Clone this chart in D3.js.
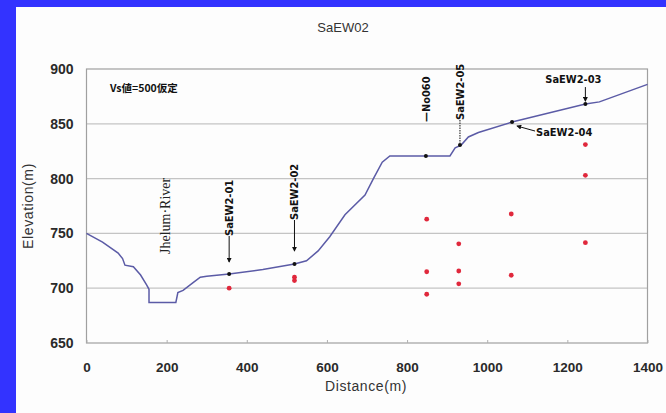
<!DOCTYPE html>
<html><head><meta charset="utf-8">
<script src="https://cdn.jsdelivr.net/npm/d3@7"></script>
<style>
html,body{margin:0;padding:0;background:#3333ff;}
svg{display:block;}
</style></head>
<body>
<svg id="c" width="666" height="413"></svg>
<script>
const chartTitle = "SaEW02";
const xTicks = [0, 200, 400, 600, 800, 1000, 1200, 1400];
const yTicks = [650, 700, 750, 800, 850, 900];
const profileDist = [0, 40, 79, 90, 96, 117, 135, 150, 156, 156, 223, 228, 241, 266, 284, 300, 356, 440, 519, 549, 578, 607, 645, 695, 716, 738, 757, 845, 907, 920, 935, 953, 978, 1062, 1245, 1280, 1400];
const profileElev = [750, 742, 732, 727, 721, 719.6, 712, 703, 699, 687, 687, 696, 698, 705, 710, 711, 713, 717, 722, 725, 734, 747, 767, 785, 800, 815, 820.6, 820.6, 820.6, 828, 830.6, 838, 842, 851.6, 868, 870, 886];
const redDist = [356, 519, 519, 849, 849, 849, 929, 929, 929, 1060, 1060, 1245, 1245, 1245];
const redElev = [700, 710, 707, 763, 715, 694.5, 740.5, 715.7, 704, 767.7, 711.8, 831, 803, 741.5];
const markNames = ["SaEW2-01", "SaEW2-02", "—No060", "SaEW2-05", "SaEW2-04", "SaEW2-03"];
const markDist = [356, 519, 847, 932, 1062, 1245];
const markElev = [713, 722, 820.6, 830.6, 851.6, 868];
const noteText = "Vs値=500仮定";
const riverText = "Jhelum·River";
const xTitle = "Distance(m)";
const yTitle = "Elevation(m)";

const svg = d3.select("#c");
svg.append("rect").attr("x",16).attr("y",7).attr("width",650).attr("height",406).attr("fill","#fdfdfd");

const L=86.5, R=647.5, T=69, B=343;
const x = d3.scaleLinear().domain([0,1400]).range([L,R]);
const y = d3.scaleLinear().domain([650,900]).range([B,T]);

// gridlines
svg.append("g").selectAll("line").data(yTicks.filter(v=>v>650&&v<900)).join("line")
  .attr("x1",L).attr("x2",R).attr("y1",d=>y(d)).attr("y2",d=>y(d))
  .attr("stroke","#c4c4c4").attr("stroke-width",1.2);
// frame
svg.append("rect").attr("x",L).attr("y",T).attr("width",R-L).attr("height",B-T)
  .attr("fill","none").attr("stroke","#a0a0a0").attr("stroke-width",1.2);

const font = "'Liberation Sans', Arial, sans-serif";
// axes
const xAxis = d3.axisBottom(x).tickValues(xTicks).tickSize(-3).tickPadding(22).tickFormat(d3.format("d"));
const gx = svg.append("g").attr("transform",`translate(0,${B})`).call(xAxis);
gx.select(".domain").remove();
gx.selectAll(".tick line").attr("stroke","#b0b0b0");
gx.selectAll("text").attr("font-family",font).attr("font-size",13.5).attr("fill","#2a2a2a").attr("font-weight","bold").attr("dy","0.35em").attr("y",24);

const yAxis = d3.axisLeft(y).tickValues(yTicks).tickSize(0).tickPadding(13).tickFormat(d3.format("d"));
const gy = svg.append("g").attr("transform",`translate(${L},0)`).call(yAxis);
gy.select(".domain").remove();
gy.selectAll("text").attr("font-family",font).attr("font-size",14).attr("fill","#2a2a2a").attr("font-weight","bold");

// titles
svg.append("text").attr("x",343).attr("y",32).attr("text-anchor","middle")
  .attr("font-family",font).attr("font-size",13).attr("fill","#333").text(chartTitle);
svg.append("text").attr("x",366).attr("y",391).attr("text-anchor","middle").attr("letter-spacing",0.6)
  .attr("font-family",font).attr("font-size",14).attr("fill","#333").text(xTitle);
svg.append("text").attr("transform","translate(33,206) rotate(-90)").attr("text-anchor","middle").attr("letter-spacing",0.6)
  .attr("font-family",font).attr("font-size",14).attr("fill","#333").text(yTitle);

// profile
const prof = profileDist.map((d,i)=>[d,profileElev[i]]);
svg.append("path").datum(prof)
  .attr("d",d3.line().x(d=>x(d[0])).y(d=>y(d[1])))
  .attr("fill","none").attr("stroke","#5b5ba6").attr("stroke-width",1.5);

// red points
svg.append("g").selectAll("circle").data(redDist.map((d,i)=>[d,redElev[i]])).join("circle")
  .attr("cx",d=>x(d[0])).attr("cy",d=>y(d[1])).attr("r",2.4).attr("fill","#e0283c");

// black markers on the profile
const marks = markNames.map((n,i)=>({n, d:markDist[i], e:markElev[i]}));
svg.append("g").selectAll("circle").data(marks).join("circle")
  .attr("cx",d=>x(d.d)).attr("cy",d=>y(d.e)).attr("r",2).attr("fill","#111");

// annotation labels
const lf = "'DejaVu Sans Condensed','DejaVu Sans',sans-serif";
svg.append("defs").append("marker").attr("id","ah").attr("viewBox","0 0 6 6").attr("refX",5).attr("refY",3)
  .attr("markerWidth",5).attr("markerHeight",5).attr("orient","auto")
  .append("path").attr("d","M0,0L6,3L0,6Z").attr("fill","#111");

function vlabel(m, textBottom, lineEnd, arrow, dash){
  const px = x(m.d);
  svg.append("text").attr("transform",`translate(${px+4},${textBottom}) rotate(-90)`)
    .attr("font-family",lf).attr("font-weight","bold").attr("font-size",11).attr("fill","#111").text(m.n);
  const ln = svg.append("line").attr("x1",px).attr("x2",px).attr("y1",textBottom).attr("y2",lineEnd)
    .attr("stroke","#111").attr("stroke-width",1);
  if(arrow) ln.attr("marker-end","url(#ah)");
  if(dash) ln.attr("stroke-dasharray","1.5,1");
}
vlabel(marks[0], 236, 262, true);
vlabel(marks[1], 220, 251, true);
vlabel(marks[2], 122, 122, false);
vlabel(marks[3], 120, 143, false, true);

// SaEW2-04
{
  const m = marks[4], px=x(m.d), py=y(m.e);
  svg.append("line").attr("x1",px+23).attr("y1",py+9).attr("x2",px+5).attr("y2",py+4)
    .attr("stroke","#111").attr("stroke-width",1).attr("marker-end","url(#ah)");
  svg.append("text").attr("x",px+24).attr("y",py+14).attr("font-family",lf).attr("font-weight","bold")
    .attr("font-size",11).attr("fill","#111").text(m.n);
}
// SaEW2-03
{
  const m = marks[5], px=x(m.d), py=y(m.e);
  svg.append("text").attr("x",px-12).attr("y",py-21).attr("text-anchor","middle").attr("font-family",lf).attr("font-weight","bold")
    .attr("font-size",11).attr("fill","#111").text(m.n);
  svg.append("line").attr("x1",px).attr("y1",py-17).attr("x2",px).attr("y2",py-3)
    .attr("stroke","#111").attr("stroke-width",1).attr("marker-end","url(#ah)");
}

// notes
svg.append("text").attr("x",110).attr("y",92).attr("font-family","'Noto Sans CJK JP',sans-serif").attr("font-weight","bold")
  .attr("font-size",10.5).attr("fill","#111").text(noteText);
svg.append("text").attr("transform","translate(170,254) rotate(-90)")
  .attr("font-family","'Liberation Serif','DejaVu Serif',serif").attr("font-size",14).attr("fill","#222").text(riverText);
</script>
</body></html>
